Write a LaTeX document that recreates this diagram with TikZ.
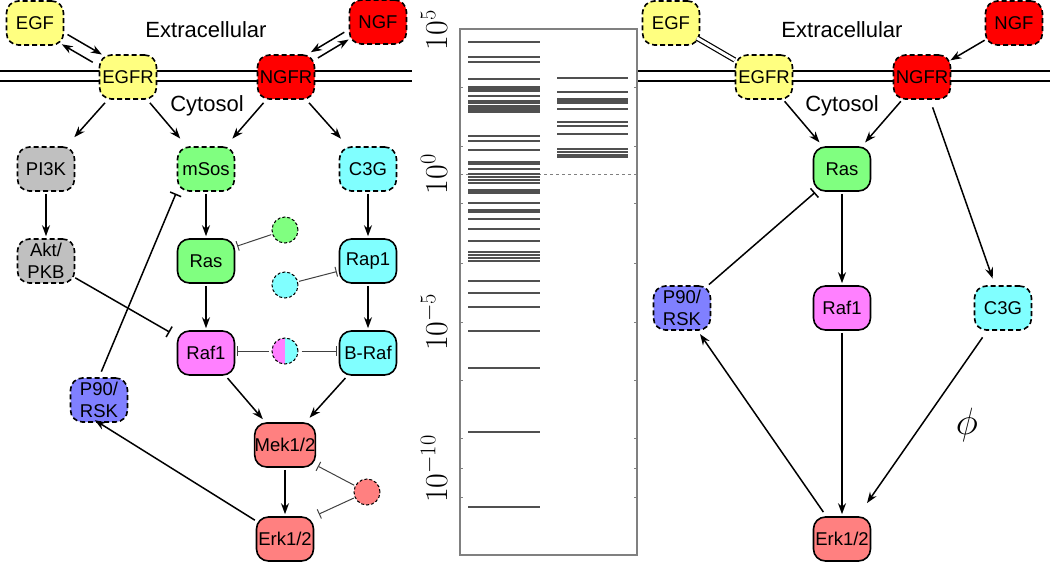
\RequirePackage{fix-cm}
\documentclass[tikz,border=0pt]{standalone}
\usepackage[no-math]{fontspec}
\setmainfont{Liberation Sans}
\usetikzlibrary{arrows.meta,calc}
\definecolor{cyel}{HTML}{FFFF80}
\definecolor{cred}{HTML}{FF0000}
\definecolor{cgray}{HTML}{C0C0C0}
\definecolor{cgreen}{HTML}{80FF80}
\definecolor{ccyan}{HTML}{80FFFF}
\definecolor{cmag}{HTML}{FF80FF}
\definecolor{cblue}{HTML}{8080FF}
\definecolor{csal}{HTML}{FF8080}
\definecolor{cspec}{HTML}{505050}
\definecolor{cframe}{HTML}{808080}
\begin{document}
\begin{tikzpicture}[x=1pt,y=-1pt,
  nbox/.style={draw, line width=1.6pt, rounded corners=12pt, minimum width=57pt, minimum height=44pt, inner sep=0pt, align=center, font=\fontsize{18.5}{22}\selectfont},
  dbox/.style={nbox, dash pattern=on 5pt off 3pt},
  smallc/.style={circle, draw, line width=1pt, dash pattern=on 3pt off 2pt, minimum size=26pt, inner sep=0pt},
  lbl/.style={font=\fontsize{22}{26}\selectfont, inner sep=0pt},
  act/.style={-{Stealth[length=11pt,width=8pt]}, line width=1.5pt},
  inh/.style={-{Bar[width=12pt,line width=1.5pt]}, line width=1.5pt},
  sinh/.style={-{Bar[width=10pt,line width=1pt]}, line width=1pt, draw=black!75},
  memb/.style={line width=2.6pt},
  spec/.style={line width=1.1pt, draw=cspec},
  axlbl/.style={rotate=90, anchor=base, inner sep=0pt, font=\fontsize{32}{36}\selectfont}
]
\useasboundingbox (0,0) rectangle (1050,563);

% membranes
\draw[memb] (0,71) -- (412,71);
\draw[memb] (0,81) -- (412,81);
\draw[memb] (637,71) -- (1050,71);
\draw[memb] (637,81) -- (1050,81);

% ---------------- left panel ----------------
\node[dbox, fill=cyel] (EGF) at (35,23) {EGF};
\node[dbox, fill=cred] (NGF) at (378,22) {NGF};
\node[dbox, fill=cyel] (EGFR) at (128,77) {EGFR};
\node[dbox, fill=cred] (NGFR) at (286,77) {NGFR};
\node[lbl] (ext) at (206,30) {Extracellular};
\node[lbl] (cyt) at (207,106) {Cytosol};
\node[dbox, fill=cgray] (PI3K) at (46,169) {PI3K};
\node[dbox, fill=cgreen] (mSos) at (206,169) {mSos};
\node[dbox, fill=ccyan] (C3G) at (368,169) {C3G};
\node[dbox, fill=cgray] (Akt) at (46,261) {Akt/\\PKB};
\node[nbox, fill=cgreen] (Ras) at (206,261) {Ras};
\node[nbox, fill=ccyan] (Rap1) at (368,261) {Rap1};
\node[smallc, fill=cgreen] (gc) at (285,230) {};
\node[smallc, fill=ccyan] (cc) at (285,285) {};
\node[nbox, fill=cmag] (Raf1) at (206,353) {Raf1};
\node[nbox, fill=ccyan] (BRaf) at (368,353) {B-Raf};
\fill[cmag] (285,338) arc[start angle=90, end angle=270, radius=13pt] -- cycle;
\fill[ccyan] (285,364) arc[start angle=-90, end angle=90, radius=13pt] -- cycle;
\node[smallc] (mc) at (285,351) {};
\node[dbox, fill=cblue] (P90) at (99,400) {P90/\\RSK};
\node[nbox, fill=csal] (Mek) at (285,445) {Mek1/2};
\node[nbox, fill=csal] (Erk) at (285,539) {Erk1/2};
\node[smallc, fill=csal] (rc) at (367,492) {};

% left edges
\draw[act, transform canvas={shift={(3.2pt,5.5pt)}}] (EGF) -- (EGFR);
\draw[act, shorten <=4pt, transform canvas={shift={(-2.5pt,-4.3pt)}}] (EGFR) -- (EGF);
\draw[act, transform canvas={shift={(-4.4pt,7.3pt)}}] (NGF) -- (NGFR);
\draw[act, shorten <=3pt] (NGFR) -- (NGF);
\draw[act, shorten <=4pt, shorten >=12pt] (EGFR) -- (PI3K);
\draw[act, shorten <=4pt, shorten >=10pt] (EGFR) -- (mSos);
\draw[act, shorten <=4pt, shorten >=10pt] (NGFR) -- (mSos);
\draw[act, shorten <=4pt, shorten >=10pt] (NGFR) -- (C3G);
\draw[act, shorten <=2pt, shorten >=2pt] (PI3K) -- (Akt);
\draw[act, shorten <=2pt, shorten >=2pt] (mSos) -- (Ras);
\draw[act, shorten <=2pt, shorten >=2pt] (C3G) -- (Rap1);
\draw[act, shorten <=2pt, shorten >=2pt] (Ras) -- (Raf1);
\draw[act, shorten <=2pt, shorten >=2pt] (Rap1) -- (BRaf);
\draw[inh, shorten >=8pt] (Akt) -- (Raf1);
\draw[inh, shorten <=6pt, shorten >=2pt] (P90.north) -- (mSos.south west);
\draw[sinh, shorten <=1pt, shorten >=2pt] (gc) -- (Ras.26);
\draw[sinh, shorten <=1pt, shorten >=2pt] (cc) -- (Rap1.199);
\draw[sinh, shorten <=3pt, shorten >=2pt] (mc) -- (mc -| Raf1.east);
\draw[sinh, shorten <=3pt, shorten >=2pt] (mc) -- (mc -| BRaf.west);
\draw[act, shorten <=3pt, shorten >=4pt] (Raf1) -- (Mek);
\draw[act, shorten <=3pt, shorten >=6pt] (BRaf) -- (Mek);
\draw[act, shorten <=2pt, shorten >=2pt] (Mek) -- (Erk);
\draw[sinh, shorten <=1pt, shorten >=2pt] (rc) -- (Mek.-33);
\draw[sinh, shorten <=1pt, shorten >=5pt] (rc) -- (Erk.north east);
\draw[act, shorten <=1pt, shorten >=-5pt] (Erk) -- (P90.south);

% ---------------- middle panel ----------------
\draw[cframe, line width=0.7pt, dashed] (460,174) -- (637,174);
\foreach \y in {42,57,62,79,87,89,91,96,101,103,106,108,110,112,136,141,150,162,164,169,174,177,180,183,190,192,193,203,210,212,219,229,241,252,255,258,261,281,293,307,331,368,432,507}
  \draw[spec] (468,\y) -- (540,\y);
\foreach \y in {78,92,99,101,103,109,122,126,134,149,152,155,157}
  \draw[spec] (557,\y) -- (628,\y);
\draw[cframe, line width=1.2pt] (460,29) rectangle (637,555);
\foreach \y in {87,146,174,203,263,322,380,438,468,497} {
  \draw[cframe, line width=0.6pt] (460,\y) -- (463,\y);
  \draw[cframe, line width=0.6pt] (637,\y) -- (634,\y);
}
\node[axlbl] (l5) at (447,30) {$10^{5}$};
\node[axlbl] (l0) at (447,174) {$10^{0}$};
\node[axlbl] (lm5) at (447,322) {$10^{-5}$};
\node[axlbl] (lm10) at (447,469) {$10^{-10}$};

% ---------------- right panel ----------------
\node[dbox, fill=cyel] (rEGF) at (671,23) {EGF};
\node[dbox, fill=cred] (rNGF) at (1014,23) {NGF};
\node[dbox, fill=cyel] (rEGFR) at (764,77) {EGFR};
\node[dbox, fill=cred] (rNGFR) at (922,77) {NGFR};
\node[lbl] (rext) at (842,30) {Extracellular};
\node[lbl] (rcyt) at (842,106) {Cytosol};
\node[nbox, fill=cgreen] (rRas) at (842,169) {Ras};
\node[dbox, fill=cblue] (rP90) at (682,308) {P90/\\RSK};
\node[nbox, fill=cmag] (rRaf1) at (842,308) {Raf1};
\node[dbox, fill=ccyan] (rC3G) at (1003,308) {C3G};
\node[nbox, fill=csal] (rErk) at (842,539) {Erk1/2};
\node[inner sep=0pt] (phi) at (967,425) {\fontsize{38}{42}\selectfont$\phi$};

\draw[double, double distance=3pt, line width=1.2pt, shorten <=-4pt] (rEGF) -- (rEGFR);
\draw[act, shorten >=-1pt] (rNGF) -- (rNGFR);
\draw[act, shorten <=2pt, shorten >=5pt] (rEGFR) -- (rRas);
\draw[act, shorten <=2pt, shorten >=5pt] (rNGFR) -- (rRas);
\draw[act, shorten <=8pt, shorten >=7pt] (rNGFR) -- (rC3G);
\draw[inh, shorten <=1pt, shorten >=1pt] (rP90) -- (rRas);
\draw[act, shorten <=2pt, shorten >=2pt] (rRas) -- (rRaf1);
\draw[act, shorten <=2pt, shorten >=2pt] (rRaf1) -- (rErk);
\draw[act, shorten <=8pt, shorten >=16pt] (rC3G) -- (rErk);
\draw[act, shorten <=5pt, shorten >=4pt] (rErk) -- (rP90);
\end{tikzpicture}
\end{document}
